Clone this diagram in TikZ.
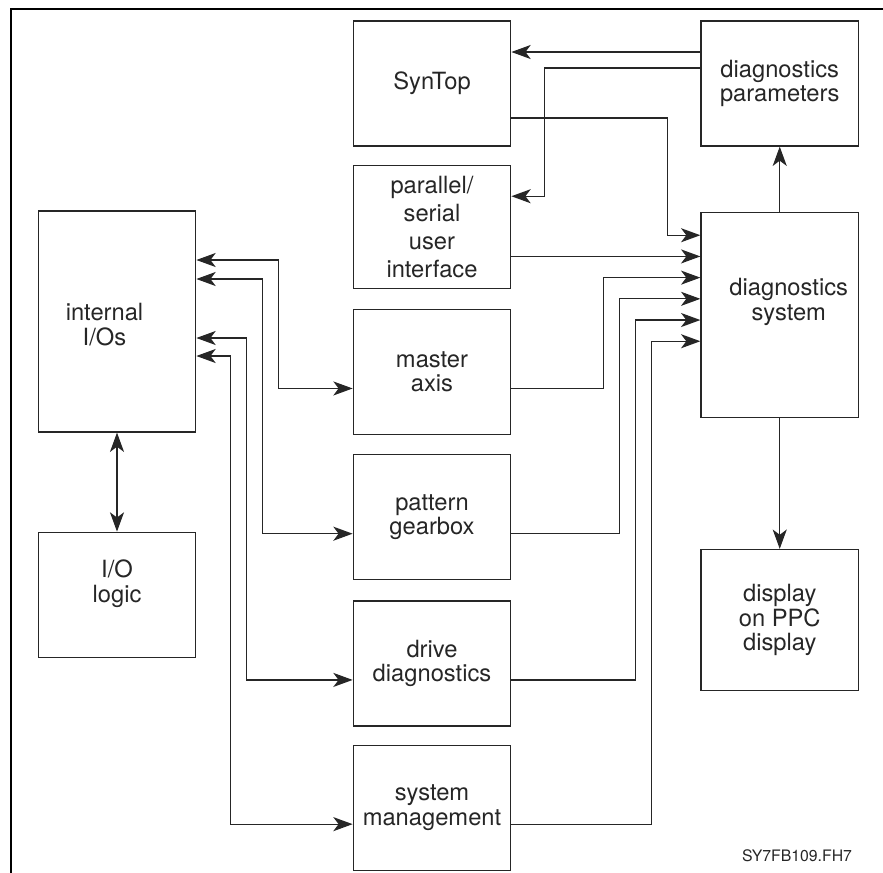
\documentclass[tikz,border=0pt]{standalone}
\usepackage{fontspec}
\setmainfont{TeX Gyre Heros}
\usetikzlibrary{arrows.meta, positioning}

\begin{document}
\begin{tikzpicture}[
    font=\fontsize{13.5}{13.9}\selectfont,
    box/.style={rectangle, draw=black!85, line width=0.7pt, minimum width=3.15cm, minimum height=2.5cm, inner sep=0pt, align=center, text=black!85},
    boxtext/.style={align=center, text=black!85},
    arrow/.style={-{Stealth[length=11pt, width=8pt, inset=3pt]}, line width=0.7pt, draw=black!85},
    dblarrow/.style={{Stealth[length=11pt, width=8pt, inset=3pt]}-{Stealth[length=11pt, width=8pt, inset=3pt]}, line width=0.7pt, draw=black!85}
]
    \useasboundingbox (0,0) rectangle (17.66,-17.46);
    \draw [line width=1.7pt] (0.22,-17.46) -- (0.22,-0.18) -- (17.66,-0.18);

    % middle column
    \node [box] (syntop) at (8.64,-1.67) {SynTop};
    \node [box, minimum height=2.46cm, below=0.36cm of syntop, font=\fontsize{13.5}{15.9}\selectfont] (parallel) {parallel/\\serial\\user\\interface};
    \node [box, below=0.4cm of parallel] (master) {master\\axis};
    \node [box, below=0.38cm of master] (pattern) {pattern\\gearbox};
    \node [box, below=0.4cm of pattern] (drive) {drive\\diagnostics};
    \node [box, below=0.36cm of drive] (sysmgmt) {system\\management};

    % right column
    \node [box, right=3.78cm of syntop] (params) {diagnostics\\parameters};
    \node [box, minimum height=4.1cm, below=1.3cm of params, label={[boxtext, xshift=0.18cm, yshift=0.26cm]center:diagnostics\\system}] (dsys) {};
    \node [box, minimum height=2.82cm, below=2.62cm of dsys] (display) {display\\on PPC\\display};

    % left column
    \node [box, minimum height=4.42cm, label={[boxtext, xshift=-0.25cm, yshift=-0.06cm]center:internal\\I/Os}] (internal) at (2.34,-6.43) {};
    \node [box, below=1.98cm of internal, label={[boxtext, yshift=0.22cm]center:I/O\\logic}] (iologic) {};

    \node [font=\fontsize{9}{10}\selectfont, text=black!85] (figcode) at (15.94,-17.12) {SY7FB109.FH7};

    % inputs of the diagnostics system
    \coordinate (in1) at ([yshift=1.59cm]dsys.west);
    \coordinate (in2) at ([yshift=1.166cm]dsys.west);
    \coordinate (in3) at ([yshift=0.742cm]dsys.west);
    \coordinate (in4) at ([yshift=0.318cm]dsys.west);
    \coordinate (in5) at ([yshift=-0.106cm]dsys.west);
    \coordinate (in6) at ([yshift=-0.53cm]dsys.west);

    \draw [arrow] ([yshift=0.63cm]params.west) -- ([yshift=0.63cm]syntop.east);
    \draw [arrow] ([yshift=0.31cm]params.west) -- ++(-3.12,0) |- ([yshift=0.61cm]parallel.east);
    \draw [arrow] ([yshift=-0.69cm]syntop.east) -- ++(3.12,0) |- (in1);
    \draw [arrow] (parallel.east |- in2) -- (in2);
    \draw [arrow] ([yshift=-0.33cm]master.east) -- ++(1.84,0) |- (in3);
    \draw [arrow] ([yshift=-0.33cm]pattern.east) -- ++(2.16,0) |- (in4);
    \draw [arrow] ([yshift=-0.33cm]drive.east) -- ++(2.48,0) |- (in5);
    \draw [arrow] ([yshift=-0.33cm]sysmgmt.east) -- ++(2.80,0) |- (in6);
    \draw [arrow] (dsys.north) -- (params.south);
    \draw [arrow] (dsys.south) -- (display.north);

    \draw [dblarrow] (internal.south) -- (iologic.north);
    \draw [dblarrow] ([yshift=1.23cm]internal.east) -- ++(1.64,0) |- ([yshift=-0.33cm]master.west);
    \draw [dblarrow] ([yshift=0.85cm]internal.east) -- ++(1.32,0) |- ([yshift=-0.33cm]pattern.west);
    \draw [dblarrow] ([yshift=-0.33cm]internal.east) -- ++(1.0,0) |- ([yshift=-0.33cm]drive.west);
    \draw [dblarrow] ([yshift=-0.69cm]internal.east) -- ++(0.68,0) |- ([yshift=-0.33cm]sysmgmt.west);
\end{tikzpicture}
\end{document}
